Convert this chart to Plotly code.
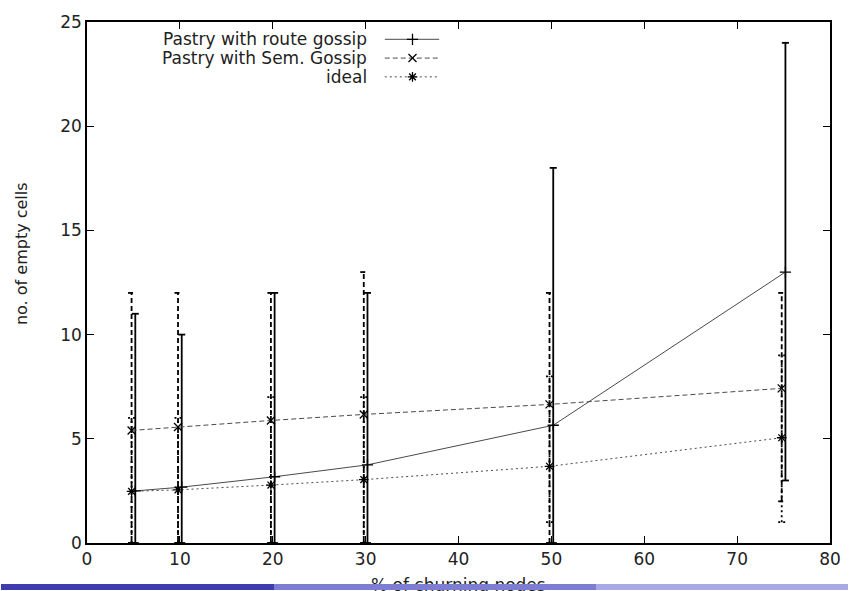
import plotly.graph_objects as go

# ---- data -------------------------------------------------------------
churn_pct = [5, 10, 20, 30, 50, 75]

route_x = [5.2, 10.2, 20.2, 30.2, 50.2, 75.2]
route_y = [2.5, 2.68, 3.18, 3.75, 5.65, 13.0]
route_lo = [0, 0, 0, 0, 0, 3]
route_hi = [11, 10, 12, 12, 18, 24]

sem_x = [4.8, 9.8, 19.8, 29.8, 49.8, 74.8]
sem_y = [5.4, 5.57, 5.88, 6.17, 6.65, 7.42]
sem_lo = [0, 0, 0, 0, 0, 2]
sem_hi = [12, 12, 12, 13, 12, 12]

ideal_x = [4.8, 9.8, 19.8, 29.8, 49.8, 74.8]
ideal_y = [2.48, 2.55, 2.78, 3.04, 3.68, 5.05]
ideal_lo = [0, 0, 0, 0, 1, 1]
ideal_hi = [6, 6, 7, 7, 8, 9]

series_names = ["Pastry with route gossip", "Pastry with Sem. Gossip", "ideal"]
x_ticks = [0, 10, 20, 30, 40, 50, 60, 70, 80]
y_ticks = [0, 5, 10, 15, 20, 25]

# ---- layout geometry (pixels) ------------------------------------------
W, H = 853, 591
ML, MR, MT, MB = 87, 15, 16, 48
PW, PH = W - ML - MR, H - MT - MB

FONT = "DejaVu Sans, Liberation Sans, Arial, sans-serif"
TEXT = "#222"
LINE_GREY = "#4a4a4a"
CAP = 0.38  # half-width of error-bar caps, in x units


def px_x(p):
    return (p - ML) / PW


def px_y(p):
    return (H - MB - p) / PH


def whiskers(xs, lo, hi):
    """Vertical error bars with caps, as one polyline split by None."""
    bx, by = [], []
    for x, l, h in zip(xs, lo, hi):
        bx += [x, x, None, x - CAP, x + CAP, None, x - CAP, x + CAP, None]
        by += [l, h, None, l, l, None, h, h, None]
    return bx, by


styles = [
    dict(x=route_x, y=route_y, lo=route_lo, hi=route_hi, dash="solid",
         symbol="cross-thin-open", name=series_names[0]),
    dict(x=sem_x, y=sem_y, lo=sem_lo, hi=sem_hi, dash="5px,3px",
         symbol="x-thin-open", name=series_names[1]),
    dict(x=ideal_x, y=ideal_y, lo=ideal_lo, hi=ideal_hi, dash="2px,3px",
         symbol="asterisk-open", name=series_names[2]),
]


def marker_style(symbol):
    return dict(symbol=symbol, size=8, color="black",
                line=dict(color="black", width=1.3))


fig = go.Figure()

for s in styles:
    bx, by = whiskers(s["x"], s["lo"], s["hi"])
    fig.add_trace(go.Scatter(
        x=bx, y=by, mode="lines", showlegend=False, hoverinfo="skip",
        line=dict(color="black", width=1.8, dash=s["dash"]),
    ))

for s in styles:
    fig.add_trace(go.Scatter(
        x=s["x"], y=s["y"], mode="lines+markers", name=s["name"],
        showlegend=False,
        line=dict(color=LINE_GREY, width=1, dash=s["dash"]),
        marker=marker_style(s["symbol"]),
    ))

# ---- gnuplot-style key: text on the left, sample on the right ----------
key_rows = [33.5, 52.5, 71.5]
key_text_right = px_x(372)
key_line = [px_x(388), px_x(443)]
key_mark = px_x(416)

annotations = []
for s, row in zip(styles, key_rows):
    yy = px_y(row)
    fig.add_trace(go.Scatter(
        x=key_line, y=[yy, yy], xaxis="x2", yaxis="y2", mode="lines",
        showlegend=False, hoverinfo="skip",
        line=dict(color=LINE_GREY, width=1, dash=s["dash"]),
    ))
    fig.add_trace(go.Scatter(
        x=[key_mark], y=[yy], xaxis="x2", yaxis="y2", mode="markers",
        showlegend=False, hoverinfo="skip",
        marker=marker_style(s["symbol"]),
    ))
    annotations.append(dict(
        text=s["name"], xref="paper", yref="paper", x=key_text_right, y=yy,
        xanchor="right", yanchor="middle", showarrow=False,
        font=dict(family=FONT, size=17, color=TEXT),
    ))

# axis titles
annotations.append(dict(
    text="no. of empty cells", xref="paper", yref="paper",
    x=px_x(21), y=px_y(250), textangle=-90, xanchor="center",
    yanchor="middle", showarrow=False,
    font=dict(family=FONT, size=16, color=TEXT),
))
annotations.append(dict(
    text="% of churning nodes", xref="paper", yref="paper",
    x=px_x(463), y=px_y(573), xanchor="center", yanchor="top",
    showarrow=False, font=dict(family=FONT, size=17, color=TEXT),
))

# slide footer band drawn over the bottom edge
footer = [(0, 276, "#3d3db0"), (276, 601, "#7d7dd2"), (601, W, "#a9a9e6")]
for x0, x1, col in footer:
    annotations.append(dict(
        text=" ", xref="paper", yref="paper", x=px_x(x0), y=px_y(H),
        xanchor="left", yanchor="bottom", showarrow=False,
        width=x1 - x0, height=6, bgcolor=col, borderpad=0, borderwidth=0,
        font=dict(size=1),
    ))

axis_common = dict(
    showgrid=False, zeroline=False, showline=True, linecolor="black",
    linewidth=1.5, mirror="ticks", ticks="inside", ticklen=7,
    tickcolor="black", tickwidth=1.2,
    tickfont=dict(family=FONT, size=17, color=TEXT),
)

fig.update_layout(
    width=W, height=H,
    margin=dict(l=ML, r=MR, t=MT, b=MB),
    paper_bgcolor="white", plot_bgcolor="white",
    xaxis=dict(range=[0, 80], tickvals=x_ticks, **axis_common),
    yaxis=dict(range=[0, 25], tickvals=y_ticks, **axis_common),
    xaxis2=dict(overlaying="x", range=[0, 1], visible=False),
    yaxis2=dict(overlaying="y", range=[0, 1], visible=False),
    annotations=annotations,
    showlegend=False,
)

fig.write_html("out.html")
